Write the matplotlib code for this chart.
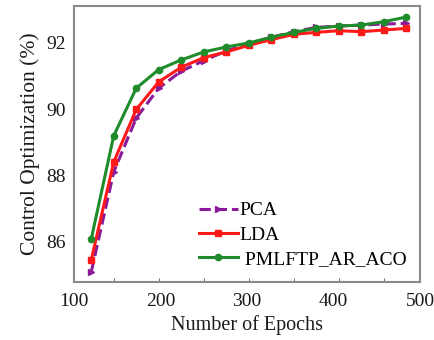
import numpy as np
from matplotlib import pyplot as plt

plt.rcParams['font.family'] = ['Liberation Serif', 'DejaVu Serif']

# epochs (15 points)
epochs = [120, 146, 172, 198, 224, 250, 276, 302, 328, 354, 380, 406, 432, 458, 484]

# control optimization (%)
pca = [85.10, 88.11, 89.73, 90.63, 91.14, 91.46, 91.75, 91.97, 92.16, 92.33,
       92.46, 92.50, 92.53, 92.56, 92.58]
lda = [85.46, 88.41, 89.99, 90.82, 91.26, 91.55, 91.72, 91.92, 92.09, 92.25,
       92.31, 92.36, 92.33, 92.38, 92.43]
pmlftp = [86.09, 89.20, 90.63, 91.19, 91.48, 91.72, 91.87, 91.99, 92.16, 92.31,
          92.43, 92.50, 92.53, 92.63, 92.77]

x_ticks = [100, 200, 300, 400, 500]
y_ticks = [86, 88, 90, 92]

fig = plt.figure(figsize=(4.35, 3.4), dpi=100)
ax = fig.add_axes([0.170, 0.171, 0.7955, 0.811])

ax.plot(epochs, pca, color='#8B1A9B', ls='--', lw=2.2, marker='>', ms=5, label='PCA')
ax.plot(epochs, lda, color='#FF1A1A', ls='-', lw=2.2, marker='s', ms=4.5, label='LDA')
ax.plot(epochs, pmlftp, color='#1E8C2A', ls='-', lw=2.2, marker='o', ms=4.5, label=' PMLFTP_AR_ACO')

ax.set_xlim(100, 500)
ax.set_ylim(84.8, 93.1)
ax.set_xticks(x_ticks)
ax.set_yticks(y_ticks)
ax.set_xticks(epochs[1::2], minor=True)
ax.tick_params(axis='both', which='major', length=0, labelsize=14, colors='#1a1a1a')
ax.tick_params(axis='x', which='major', pad=8)
ax.tick_params(axis='y', which='major', pad=6)
ax.tick_params(axis='x', which='minor', direction='in', length=3, color='#555555')

for s in ax.spines.values():
    s.set_color('#8a8a8a')
    s.set_linewidth(1.5)

ax.set_xlabel('Number of Epochs', fontsize=14.5, color='#1a1a1a', labelpad=4)
ax.set_ylabel('Control Optimization (%)', fontsize=15.5, color='#1a1a1a', labelpad=4)

ax.legend(loc='lower right', frameon=False, fontsize=14, handlelength=2.0,
          handletextpad=0.1, labelspacing=0.35, borderaxespad=0.3)

plt.savefig('out.png', dpi=100)
